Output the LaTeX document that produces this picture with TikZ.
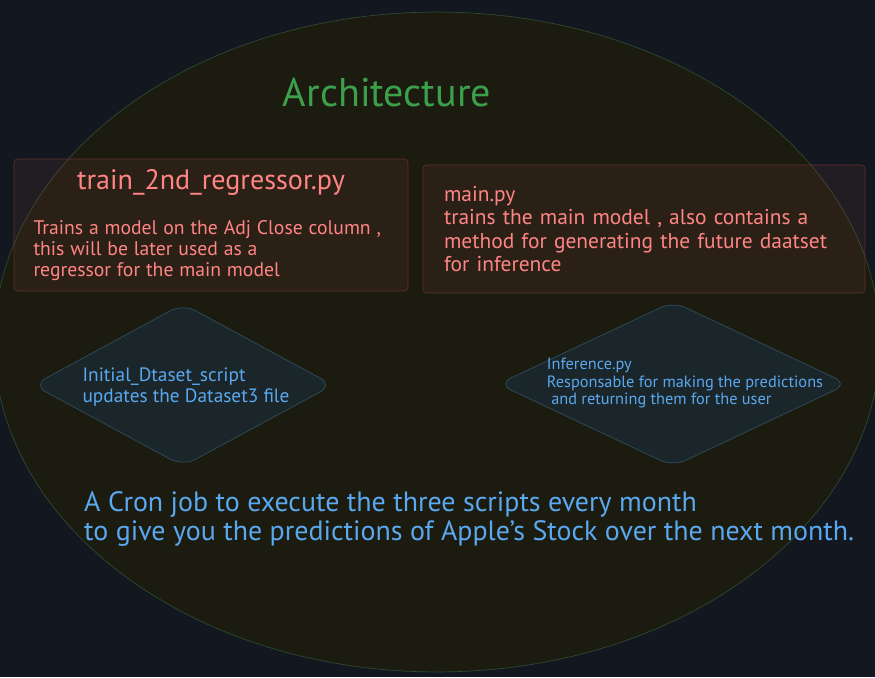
\documentclass[tikz,border=0pt]{standalone}
\usepackage{fontspec}
\setmainfont{PT Sans}
\usepackage{xcolor}
\usepackage{tikz}
\usetikzlibrary{positioning,shapes.geometric}

\definecolor{bgdark}{HTML}{13171F}
\definecolor{ovalfill}{HTML}{1C1B10}
\definecolor{ovalline}{HTML}{2C4A30}
\definecolor{boxtint}{HTML}{C4544C}
\definecolor{boxline}{HTML}{5E3029}
\definecolor{diafill}{HTML}{1A2629}
\definecolor{dialine}{HTML}{2F4D5C}
\definecolor{redtext}{HTML}{FF8585}
\definecolor{bluetext}{HTML}{5AA8F0}
\definecolor{greentext}{HTML}{3CA04B}

\begin{document}
\begin{tikzpicture}[
  x=0.02cm, y=-0.02cm,
  script/.style={rectangle, draw=boxline, fill=boxtint, fill opacity=0.09, text opacity=1, rounded corners=2pt, text=redtext, align=left, anchor=center},
  job/.style={diamond, draw=dialine, fill=diafill, rounded corners=8pt, inner sep=0pt},
  jobtext/.style={text=bluetext, align=left, anchor=center},
  heading/.style={text=greentext, font=\fontsize{22.8}{26}\selectfont}
]
\fill[bgdark] (0,0) rectangle (875,677);
\useasboundingbox (0,0) rectangle (875,677);
\filldraw[fill=ovalfill, draw=ovalline] (437,342) ellipse [x radius=8.86cm, y radius=6.6cm];

\node[heading] (title) at (387,92) {Architecture};

\node[script, minimum width=7.88cm, minimum height=2.64cm, text width=7.1cm] (regressor) at (211,225)
  {\makebox[\linewidth][c]{\fontsize{16}{18}\selectfont train\_2nd\_regressor.py}\\[14pt]
   \fontsize{11.2}{12}\selectfont Trains a model on the Adj Close column ,\\
   this will be later used as a\\
   regressor for the main model};
\node[script, minimum width=8.84cm, minimum height=2.56cm, text width=8.0cm, font=\fontsize{12.2}{13.3}\selectfont] (mainpy) at (644,229)
  {main.py\\
   trains the main model , also contains a\\
   method for generating the future daatset\\
   for inference};

\node[job, minimum width=6.0cm, minimum height=3.25cm] (dataset) at (183,385) {};
\node[jobtext, font=\fontsize{11}{11.5}\selectfont] (datasettext) at (186,387)
  {Initial\_Dtaset\_script\\
   updates the Dataset3 file};
\node[job, minimum width=7.0cm, minimum height=3.3cm] (inference) at (673,384) {};
\node[jobtext, font=\fontsize{9.3}{10.2}\selectfont] (inferencetext) at (685,383)
  {Inference.py\\
   Responsable for making the predictions\\
   \ and returning them for the user};

\node[text=bluetext, align=left, anchor=west, font=\fontsize{15.9}{16.6}\selectfont] (cronnote) at (78,519)
  {A Cron job to execute the three scripts every month\\
   to give you the predictions of Apple's Stock over the next month.};
\end{tikzpicture}
\end{document}
